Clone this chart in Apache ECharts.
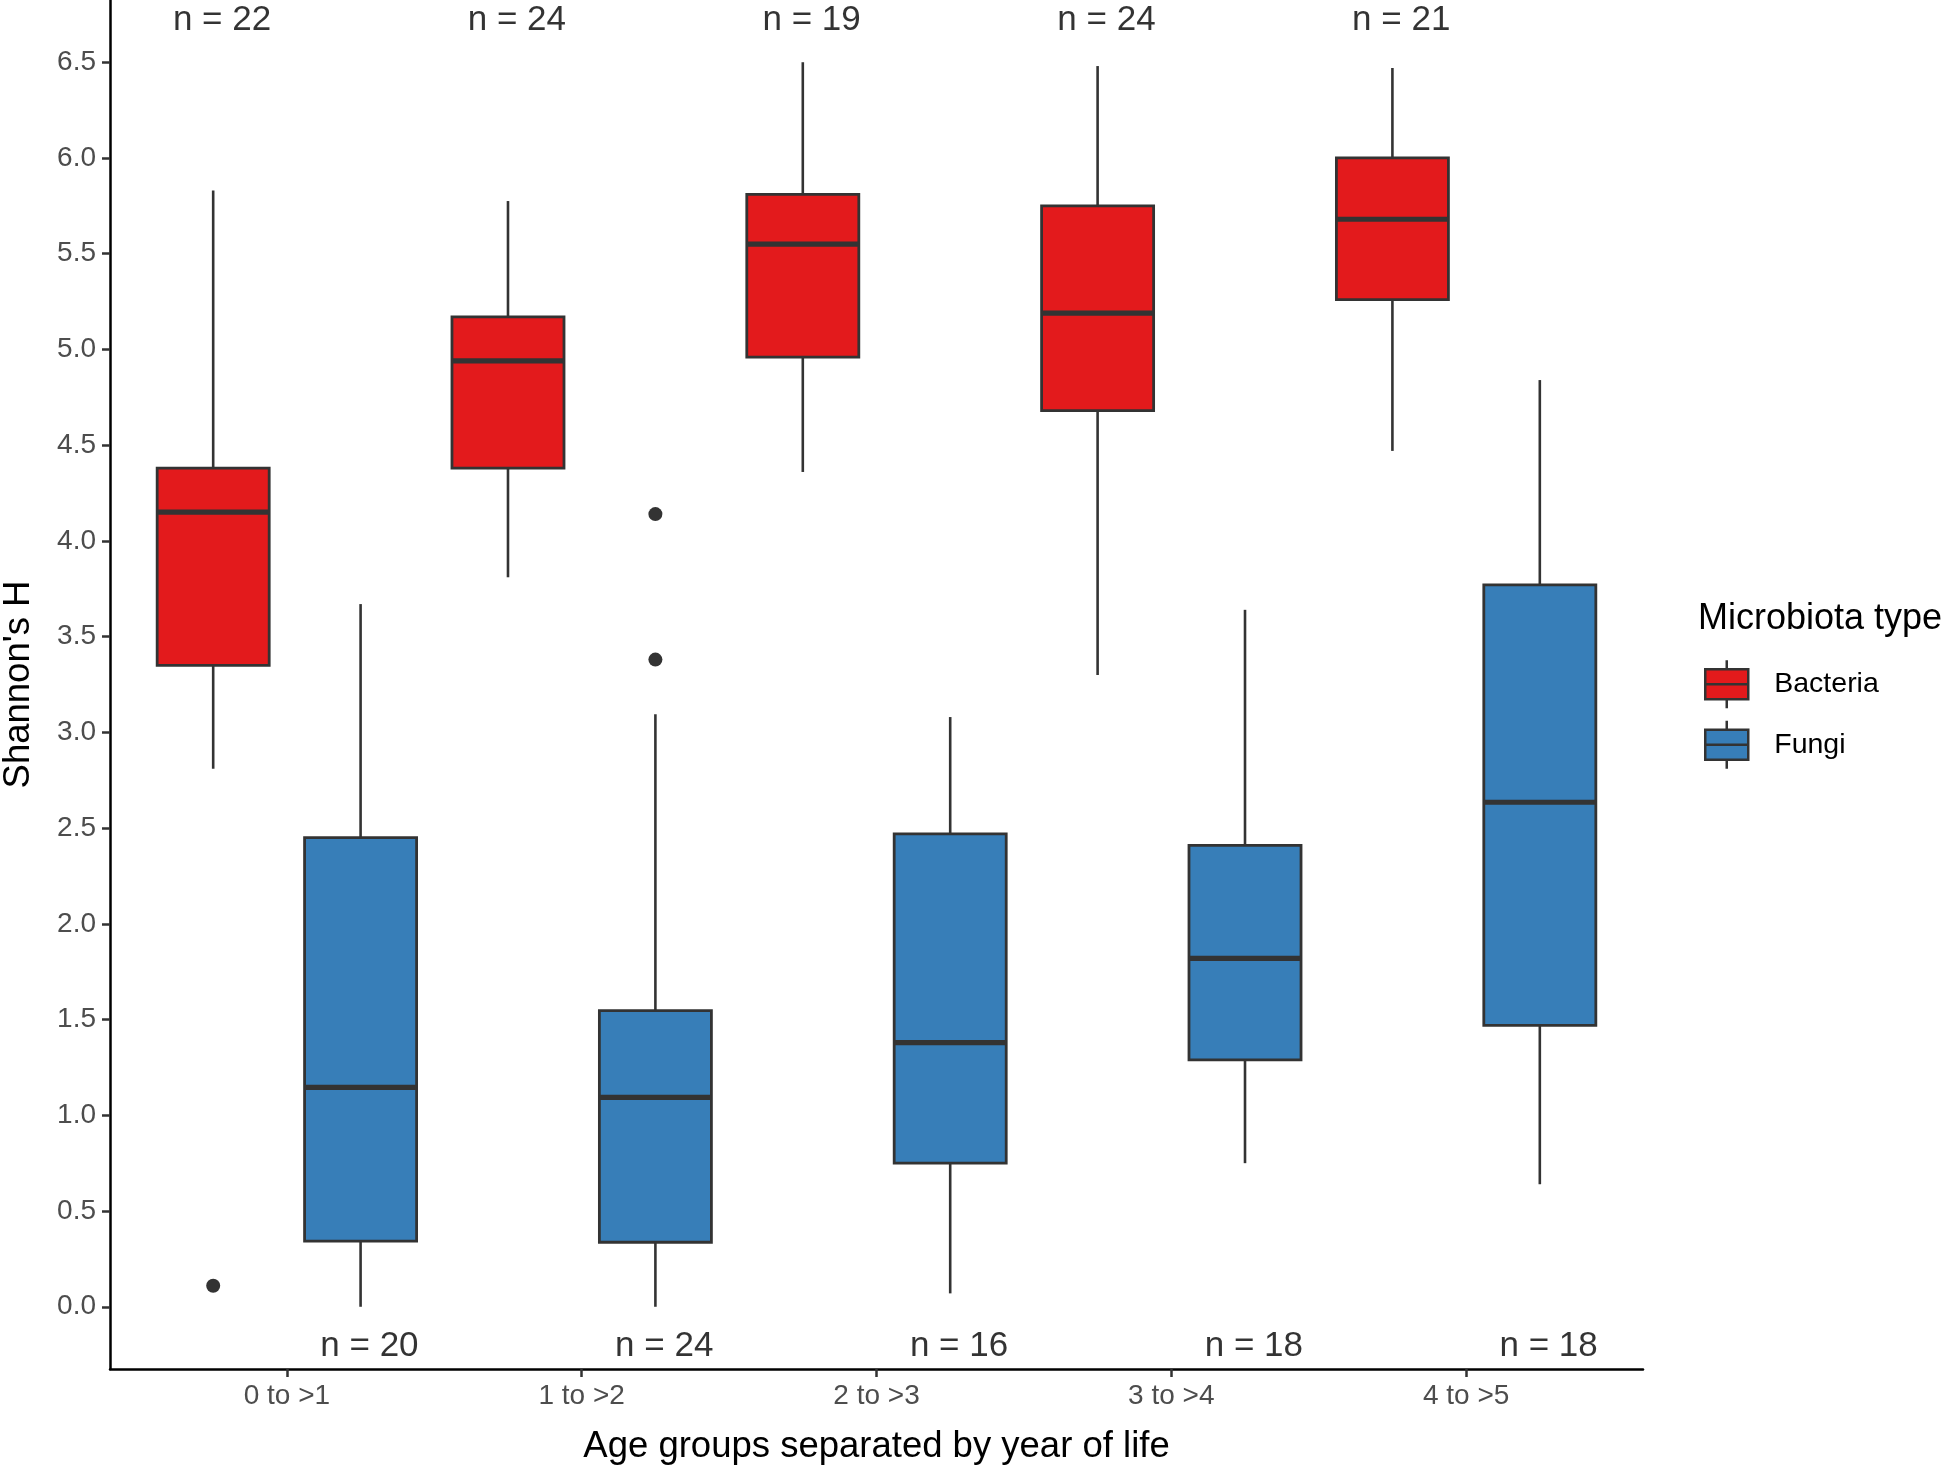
<!DOCTYPE html>
<html>
<head>
    <meta charset="utf-8">
    <title>Shannon's H by age group</title>
    <script src="https://cdn.jsdelivr.net/npm/echarts@6/dist/echarts.min.js"></script>
    <style>
        html, body { margin: 0; padding: 0; background: #fff; }
    </style>
</head>
<body>
    <div id="main" style="width: 1944px;height:1465px;"></div>
<script type="text/javascript">
// 数据
var categories = ['0 to >1', '1 to >2', '2 to >3', '3 to >4', '4 to >5'];

var bacteriaMin    = [2.81, 3.81, 4.36, 3.30, 4.47];
var bacteriaQ1     = [3.35, 4.38, 4.96, 4.68, 5.26];
var bacteriaMedian = [4.15, 4.94, 5.55, 5.19, 5.68];
var bacteriaQ3     = [4.38, 5.17, 5.81, 5.75, 6.00];
var bacteriaMax    = [5.83, 5.775, 6.50, 6.48, 6.47];
var bacteriaOutliers = [[0, 0.11]];      // [category index, value]
var bacteriaN = [22, 24, 19, 24, 21];

var fungiMin    = [0.00, 0.00, 0.07, 0.75, 0.64];
var fungiQ1     = [0.343, 0.337, 0.75, 1.29, 1.47];
var fungiMedian = [1.146, 1.094, 1.38, 1.82, 2.635];
var fungiQ3     = [2.45, 1.547, 2.47, 2.41, 3.77];
var fungiMax    = [3.67, 3.095, 3.08, 3.64, 4.84];
var fungiOutliers = [[1, 4.14], [1, 3.38]];
var fungiN = [20, 24, 16, 18, 18];

var yTicks = [0, 0.5, 1, 1.5, 2, 2.5, 3, 3.5, 4, 4.5, 5, 5.5, 6, 6.5];

var FONT = '"Liberation Sans", Arial, sans-serif';
var DODGE = { Bacteria: -0.25, Fungi: 0.25 };      // 分组偏移
var BOX_W = 0.38;
var N_SHIFT = { Bacteria: -0.22, Fungi: 0.28 };
var N_Y = { Bacteria: 6.72, Fungi: -0.205 };
var COLORS = { Bacteria: '#E31A1C', Fungi: '#377EB8' };
var EDGE = '#333333';

var myChart = echarts.init(document.getElementById('main'));

function boxData(mins, q1s, meds, q3s, maxs) {
    return categories.map(function (c, i) {
        return [i, mins[i], q1s[i], meds[i], q3s[i], maxs[i]];
    });
}

function boxSeries(name, data) {
    return {
        name: name,
        type: 'custom',
        itemStyle: { color: COLORS[name], borderColor: EDGE, borderWidth: 2.5 },
        renderItem: function (params, api) {
            var x = api.value(0) + DODGE[name];
            var pMin = api.coord([x, api.value(1)]);
            var pQ1 = api.coord([x, api.value(2)]);
            var pMed = api.coord([x, api.value(3)]);
            var pQ3 = api.coord([x, api.value(4)]);
            var pMax = api.coord([x, api.value(5)]);
            var half = api.size([BOX_W, 0])[0] / 2;
            var cx = pMed[0];
            return {
                type: 'group',
                children: [
                    { type: 'line', shape: { x1: cx, y1: pMax[1], x2: cx, y2: pQ3[1] },
                      style: { stroke: EDGE, lineWidth: 2.6 } },
                    { type: 'line', shape: { x1: cx, y1: pQ1[1], x2: cx, y2: pMin[1] },
                      style: { stroke: EDGE, lineWidth: 2.6 } },
                    { type: 'rect', shape: { x: cx - half, y: pQ3[1], width: half * 2, height: pQ1[1] - pQ3[1] },
                      style: { fill: COLORS[name], stroke: EDGE, lineWidth: 2.8 } },
                    { type: 'line', shape: { x1: cx - half, y1: pMed[1], x2: cx + half, y2: pMed[1] },
                      style: { stroke: EDGE, lineWidth: 5.2 } }
                ]
            };
        },
        encode: { x: 0, y: [1, 2, 3, 4, 5] },
        data: data,
        z: 2
    };
}

function outlierSeries(name, pts) {
    return {
        name: name + ' outliers',
        type: 'scatter',
        symbol: 'circle',
        symbolSize: 14,
        itemStyle: { color: EDGE, opacity: 1 },
        data: pts.map(function (p) { return [p[0] + DODGE[name], p[1]]; }),
        z: 3
    };
}

function countSeries(name, counts) {
    return {
        name: name + ' n',
        type: 'scatter',
        symbolSize: 0,
        silent: true,
        data: counts.map(function (n, i) { return [i + N_SHIFT[name], N_Y[name], n]; }),
        label: {
            show: true,
            position: 'inside',
            formatter: function (p) { return 'n = ' + p.value[2]; },
            fontFamily: FONT,
            fontSize: 35,
            color: '#000'
        },
        z: 4
    };
}

var legendIcon = 'path://M22.5 0V9M1 9H44V39H1ZM1 24H44M22.5 39V48';

option = {
    animation: false,
    backgroundColor: '#ffffff',
    textStyle: { fontFamily: FONT },
    title: {
        text: 'Microbiota type',
        left: 1698,
        top: 601,
        padding: 0,
        textStyle: { fontFamily: FONT, fontSize: 36, fontWeight: 'normal', color: '#000' }
    },
    legend: {
        orient: 'vertical',
        left: 1704,
        top: 659,
        padding: 0,
        itemWidth: 45,
        itemHeight: 48,
        itemGap: 10,
        selectedMode: false,
        textStyle: { fontFamily: FONT, fontSize: 28.5, color: '#000', padding: [0, 0, 0, 20] },
        data: [
            { name: 'Bacteria', icon: legendIcon,
              itemStyle: { color: COLORS.Bacteria, borderColor: EDGE, borderWidth: 2.5 } },
            { name: 'Fungi', icon: legendIcon,
              itemStyle: { color: COLORS.Fungi, borderColor: EDGE, borderWidth: 2.5 } }
        ]
    },
    grid: { left: 110, top: 0, width: 1533, height: 1369, containLabel: false, outerBoundsMode: 'none' },
    xAxis: {
        type: 'value',
        min: -0.6,
        max: 4.6,
        name: 'Age groups separated by year of life',
        nameLocation: 'middle',
        nameGap: 59,
        nameTextStyle: { fontFamily: FONT, fontSize: 36.5, color: '#000' },
        splitLine: { show: false },
        axisLine: { show: true, onZero: false, lineStyle: { color: '#000', width: 2.5 } },
        axisTick: { show: true, length: 8, customValues: [0, 1, 2, 3, 4],
                    lineStyle: { color: EDGE, width: 2.5 } },
        axisLabel: {
            customValues: [0, 1, 2, 3, 4],
            formatter: function (v) { return categories[Math.round(v)]; },
            margin: 13,
            fontFamily: FONT,
            fontSize: 28,
            color: '#4D4D4D'
        }
    },
    yAxis: {
        type: 'value',
        min: -0.325,
        max: 6.825,
        name: "Shannon's H",
        nameLocation: 'middle',
        nameGap: 73,
        nameTextStyle: { fontFamily: FONT, fontSize: 36.5, color: '#000' },
        splitLine: { show: false },
        axisLine: { show: true, onZero: false, lineStyle: { color: '#000', width: 2.5 } },
        axisTick: { show: true, length: 8, customValues: yTicks,
                    lineStyle: { color: EDGE, width: 2.5 } },
        axisLabel: {
            customValues: yTicks,
            formatter: function (v) { return v.toFixed(1); },
            margin: 14,
            fontFamily: FONT,
            fontSize: 28,
            color: '#4D4D4D'
        }
    },
    series: [
        boxSeries('Bacteria', boxData(bacteriaMin, bacteriaQ1, bacteriaMedian, bacteriaQ3, bacteriaMax)),
        boxSeries('Fungi', boxData(fungiMin, fungiQ1, fungiMedian, fungiQ3, fungiMax)),
        outlierSeries('Bacteria', bacteriaOutliers),
        outlierSeries('Fungi', fungiOutliers),
        countSeries('Bacteria', bacteriaN),
        countSeries('Fungi', fungiN)
    ]
};

myChart.setOption(option);
</script>
</body>
</html>
